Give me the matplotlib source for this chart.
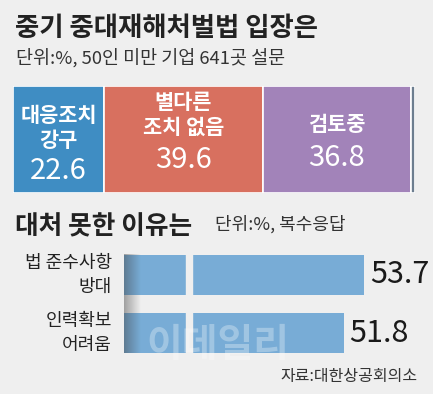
import matplotlib
matplotlib.use("Agg")
import matplotlib.pyplot as plt
import numpy as np
from matplotlib import font_manager

KR = "Noto Sans CJK KR"
names = {f.name for f in font_manager.fontManager.ttflist}
NUM = "Liberation Sans Narrow" if "Liberation Sans Narrow" in names else KR
plt.rcParams["font.family"] = [KR, "DejaVu Sans"]

# data
stance_labels = ["대응조치\n강구", "별다른\n조치 없음", "검토중", ""]
stance_values = [22.6, 39.6, 36.8, 1.0]
stance_colors = ["#3f8dc3", "#d8705f", "#a283b9", "#6d7e8f"]

reason_labels = ["법 준수사항\n방대", "인력확보\n어려움"]
reason_values = [53.7, 51.8]

BG = "#efefef"
W, H = 433, 394
fig = plt.figure(figsize=(W / 100, H / 100), dpi=100, facecolor=BG)


def fx(px):
    return px / W


def fy(py):
    return 1 - py / H


# titles
fig.text(fx(15), fy(28), "중기 중대재해처벌법 입장은", fontsize=19, fontweight="heavy",
         color="#222222", va="center", ha="left")
fig.text(fx(16), fy(58), "단위:%, 50인 미만 기업 641곳 설문", fontsize=13.3,
         color="#333333", va="center", ha="left")

# stacked bar, white frame around it
frame = fig.add_axes([fx(11), fy(195), fx(407), 111 / H])
frame.set_facecolor("white")
frame.axis("off")
frame.patch.set_visible(True)
ax1 = fig.add_axes([fx(13), fy(193), fx(402), 107 / H])
# (label y, value y) inside each segment, axes data units
text_pos = [(0.107, -0.29), (0.229, -0.19), (0.14, -0.17)]
left = 0
for i, (lab, val, col) in enumerate(zip(stance_labels, stance_values, stance_colors)):
    ax1.barh(0, val, left=left, height=1, color=col, edgecolor="white", linewidth=1.2)
    mid = left + val / 2
    if lab:
        ly, vy = text_pos[i]
        ax1.text(mid, ly, lab, ha="center", va="center", color="white",
                 fontsize=15, fontweight="bold", linespacing=1.2)
        ax1.text(mid, vy, f"{val:.1f}", ha="center", va="center",
                 color="white", fontsize=21, family=NUM)
    left += val
ax1.set_xlim(0, sum(stance_values))
ax1.set_ylim(-0.5, 0.5)
ax1.axis("off")

# second section
fig.text(fx(15), fy(227), "대처 못한 이유는", fontsize=18.5, fontweight="heavy",
         color="#222222", va="center", ha="left")
fig.text(fx(215), fy(224), "단위:%, 복수응답", fontsize=13,
         color="#333333", va="center", ha="left")

ax2 = fig.add_axes([fx(124), fy(358), fx(306), 108 / H])
ax2.set_facecolor("none")
y = np.arange(len(reason_values))
ax2.barh(y, reason_values, height=0.69, color="#78acd6", left=0)
# broken-axis gap
ax2.axvspan(36.87, 37.43, color=BG, zorder=3)
# left shading
grad = np.linspace(0.45, 0, 60).reshape(1, -1)
rgba = np.zeros((1, 60, 4))
rgba[..., :3] = 0.25
rgba[..., 3] = grad
ax2.imshow(rgba, extent=(31, 32.6, 1.35, -0.35), aspect="auto", zorder=2,
           interpolation="bilinear")
ax2.set_xlim(31, 59.95)
ax2.set_ylim(1.431, -0.431)
for yi, v in zip(y, reason_values):
    ax2.text(v + 0.55, yi, f"{v:.1f}", ha="left", va="center", fontsize=22,
             family=NUM, color="#1a1a1a")
ax2.axis("off")

for lab, yc in zip(reason_labels, [275, 333]):
    fig.text(fx(112), fy(yc), lab, ha="right", va="center", fontsize=13,
             color="#222222", linespacing=1.45)

# watermark
fig.text(fx(218), fy(346), "이데일리", ha="center", va="center", fontsize=28,
         fontweight="bold", color="white", alpha=0.3)

fig.text(fx(418), fy(376), "자료:대한상공회의소", ha="right", va="center",
         fontsize=11.5, color="#333333")

fig.savefig("out.png", dpi=100, facecolor=BG)
